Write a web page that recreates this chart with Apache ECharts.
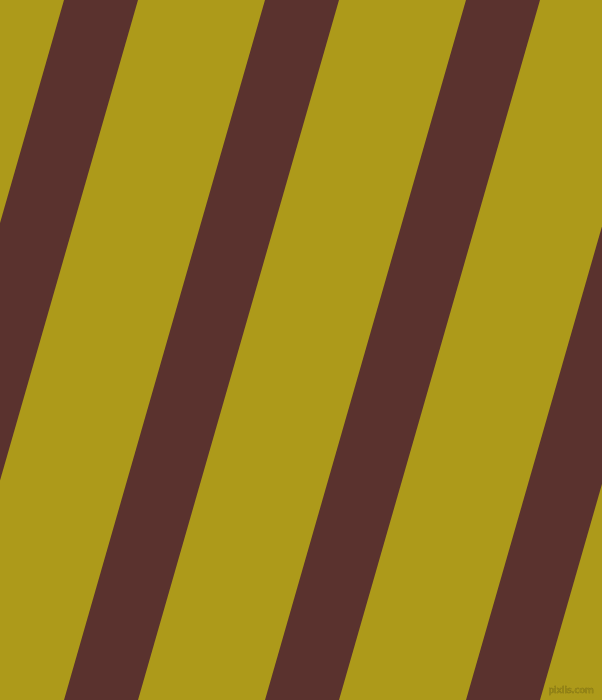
<!DOCTYPE html>
<html>
<head>
<meta charset="utf-8">
<script src="https://cdn.jsdelivr.net/npm/echarts@6/dist/echarts.min.js"></script>
<style>
  html, body { margin: 0; padding: 0; background: #ad9a1a; }
  #main { width: 602px; height: 700px; }
</style>
</head>
<body>
<div id="main"></div>
<script>
// stripe edges, in pixels at the top (y=0) and bottom (y=700)
const topLeft = [64, 265, 466, 667];
const topRight = [138, 339, 540, 741];
const bottomLeft = [-137, 64, 265, 466];
const bottomRight = [-63, 138, 339, 540];

const stripes = topLeft.map((t, i) => [t, topRight[i], bottomLeft[i], bottomRight[i]]);

const chart = echarts.init(document.getElementById('main'));

const option = {
  backgroundColor: '#ad9a1a',
  animation: false,
  grid: { left: 0, right: 0, top: 0, bottom: 0 },
  xAxis: { type: 'value', min: 0, max: 602, show: false },
  yAxis: { type: 'value', min: 0, max: 700, inverse: true, show: false },
  series: [{
    type: 'custom',
    clip: true,
    data: stripes,
    renderItem: function (params, api) {
      const pts = [
        api.coord([api.value(0), 0]),
        api.coord([api.value(1), 0]),
        api.coord([api.value(3), 700]),
        api.coord([api.value(2), 700])
      ];
      return {
        type: 'polygon',
        shape: { points: pts },
        style: { fill: '#5a322e' }
      };
    }
  }],
  graphic: [{
    type: 'text',
    right: 8,
    bottom: 5,
    style: {
      text: 'pixlis.com',
      font: '9px "DejaVu Sans"',
      fill: '#9a8a18',
      stroke: '#7a6c14',
      lineWidth: 0.6
    }
  }]
};

option && chart.setOption(option);
</script>
</body>
</html>
